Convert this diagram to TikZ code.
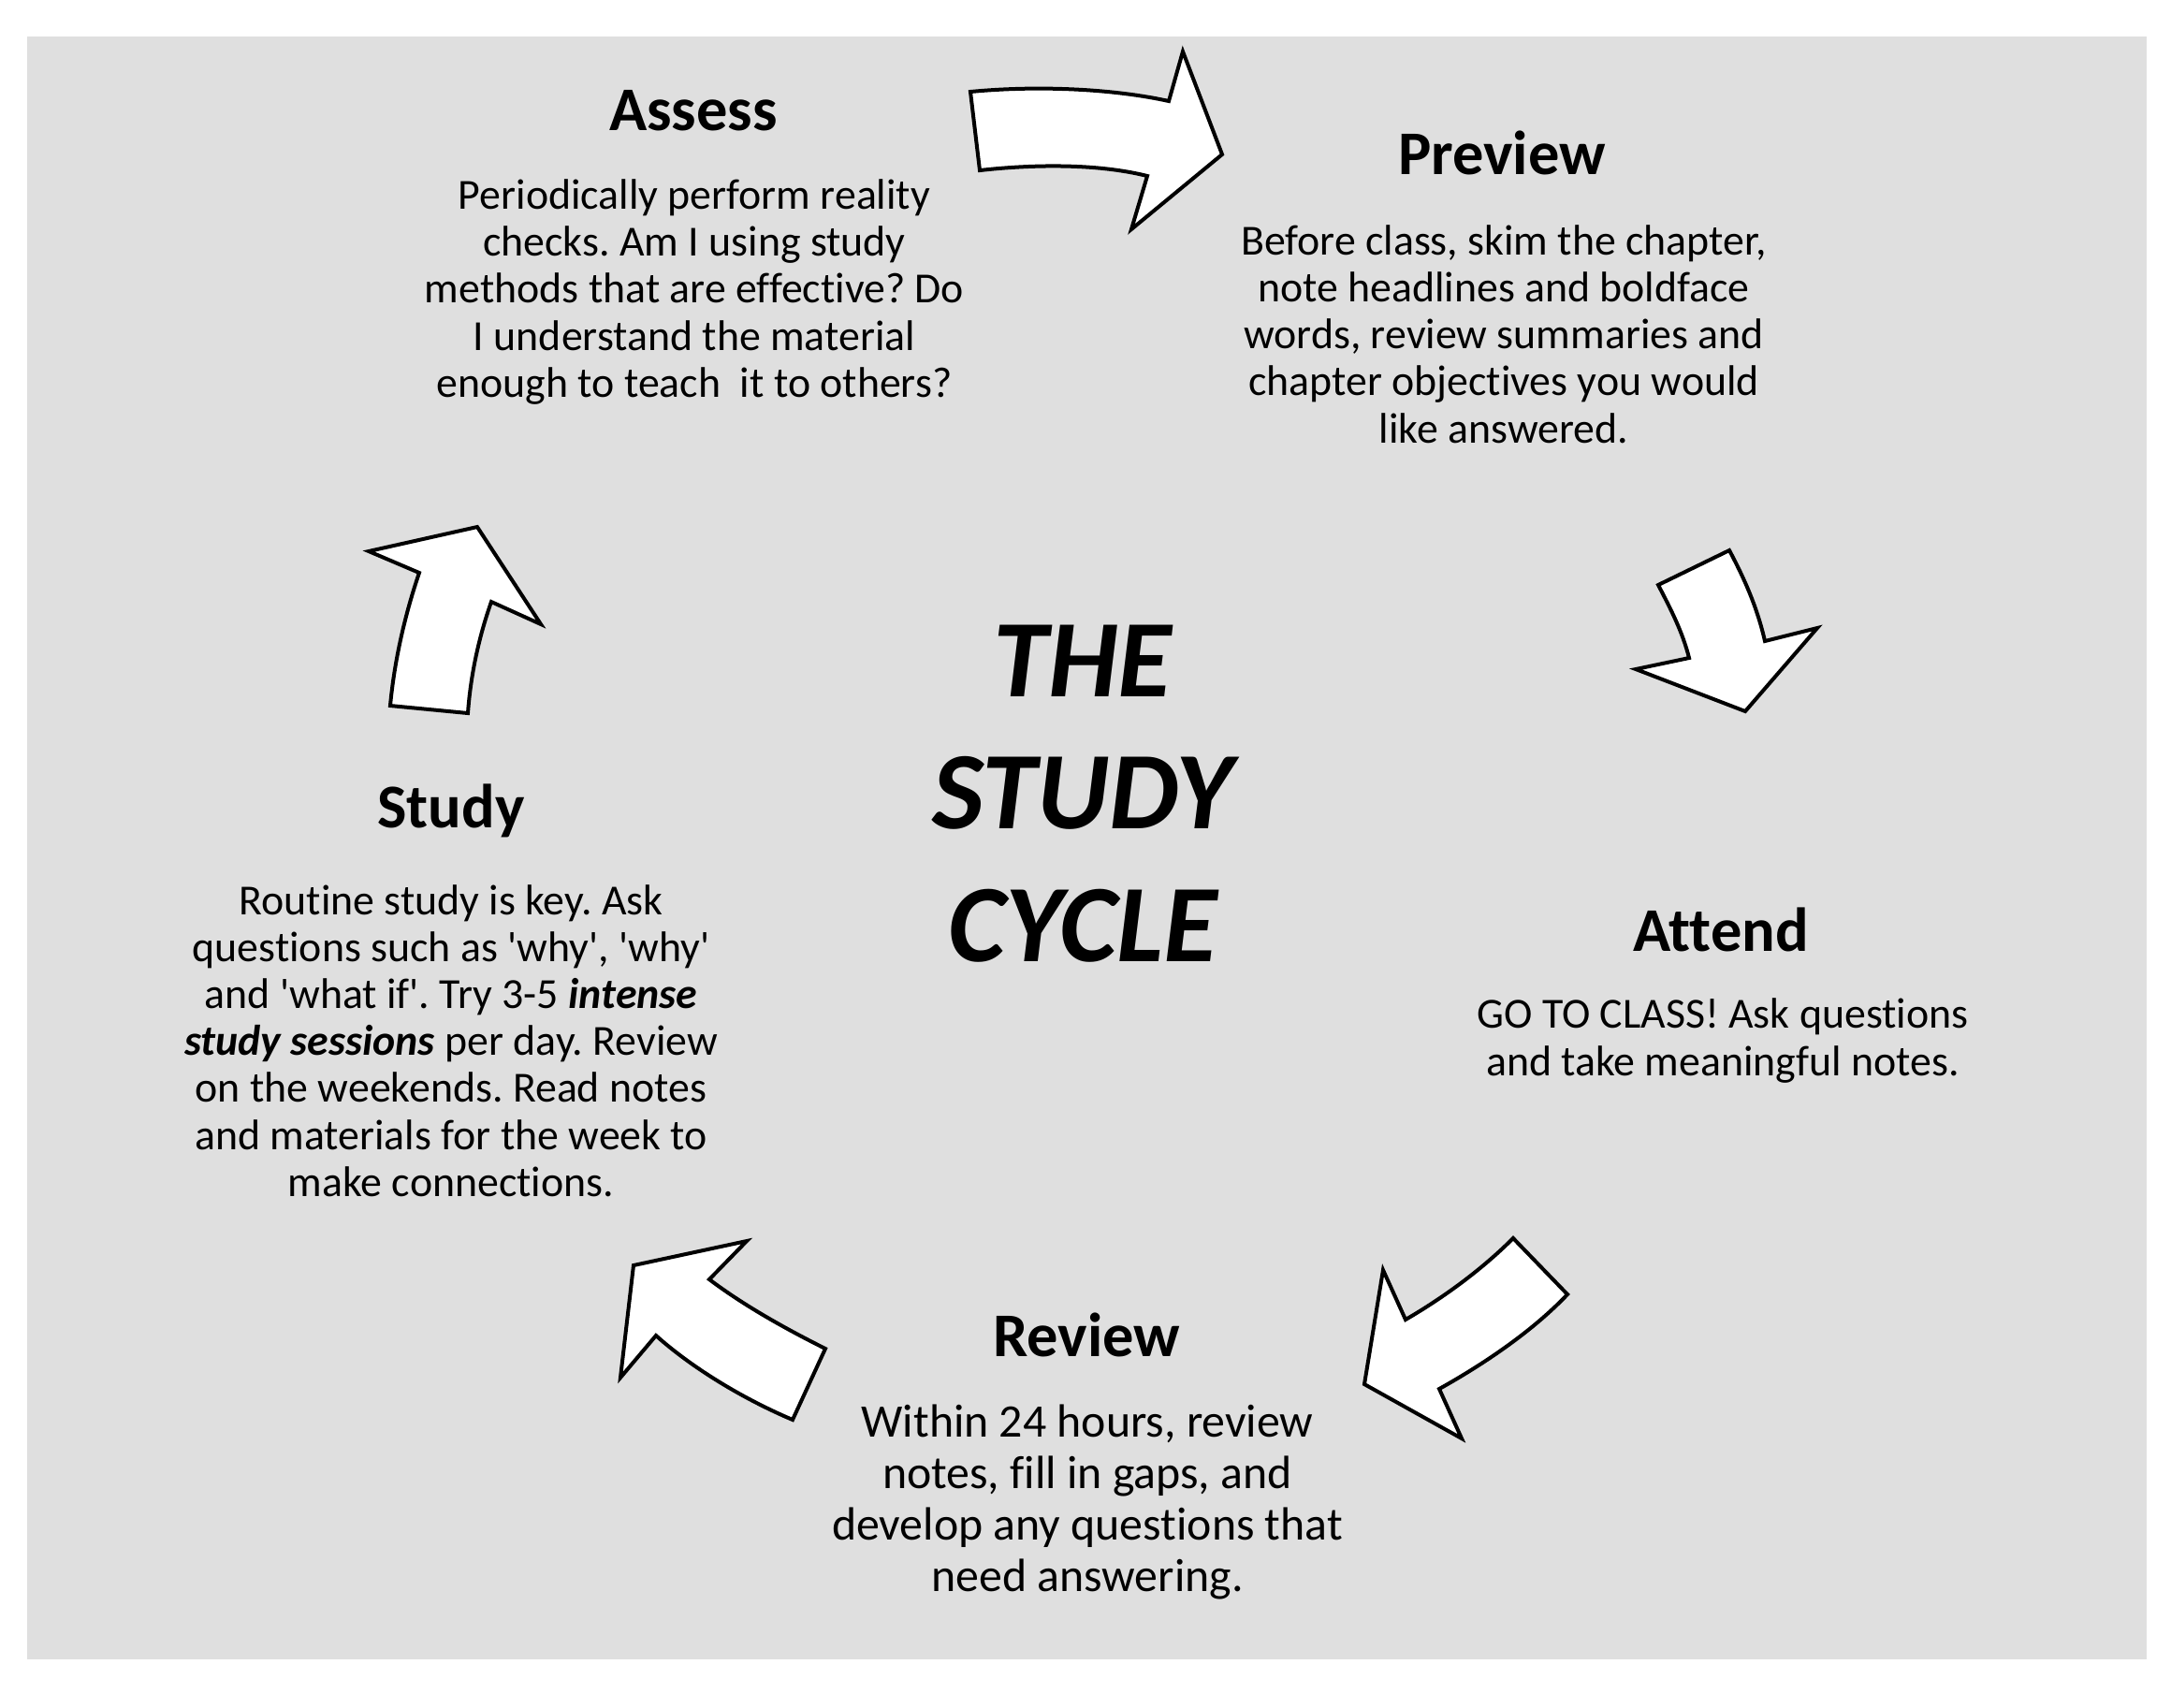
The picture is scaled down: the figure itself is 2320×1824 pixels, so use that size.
\documentclass[tikz,border=0pt]{standalone}
\usepackage{fontspec}
\setmainfont{Carlito}[Ligatures={NoCommon}]
\usetikzlibrary{positioning}
\definecolor{bggray}{HTML}{DFDFDF}
\frenchspacing

\begin{document}
\begin{tikzpicture}[x=0.3bp,y=-0.3bp,
  bigarrow/.style={draw=black,fill=white,line width=1.2bp,line join=miter},
  heading/.style={font=\fontsize{20}{24}\selectfont\bfseries,inner sep=0pt},
  body/.style={align=center,font=\fontsize{13.8}{15.1}\selectfont,inner sep=0pt}]
\useasboundingbox (0,0) rectangle (2320,1824);
% Grey background
\fill[bggray] (29,39) rectangle (2294,1773);
% Title in the middle
\node[font=\fontsize{35.5}{42.6}\selectfont\bfseries\itshape,align=center,inner sep=0pt] (title) at (1157,848) {THE\\STUDY\\CYCLE};
% Assess
\node[heading] (assess) at (741,118) {Assess};
\node[body] (assesstext) at (742,312) {Periodically perform reality\\checks. Am I using study\\methods that are effective? Do\\I understand the material\\enough to teach\ \ it to others?};
% Preview
\node[heading] (preview) at (1605,163) {Preview};
\node[body] (previewtext) at (1607,357) {Before class, skim the chapter,\\note headlines and boldface\\words, review summaries and\\chapter objectives you would\\like answered.};
% Attend
\node[heading] (attend) at (1839,993) {Attend};
\node[body] (attendtext) at (1841,1112) {GO TO CLASS! Ask questions\\and take meaningful notes.};
% Review
\node[heading] (review) at (1161,1426) {Review};
\node[body,font=\fontsize{15}{16.5}\selectfont] (reviewtext) at (1162,1605) {Within 24 hours, review\\notes, fill in gaps, and\\develop any questions that\\need answering.};
% Study
\node[heading] (study) at (482,866) {Study};
\node[body] (studytext) at (482,1112) {Routine study is key. Ask\\questions such as \textquotesingle why\textquotesingle, \textquotesingle why\textquotesingle\\and \textquotesingle what if\textquotesingle. Try 3-5 \textbf{\textit{intense}}\\\textbf{\textit{study sessions}} per day. Review\\on the weekends. Read notes\\and materials for the week to\\make connections.};
% Arrows between the steps
\draw[bigarrow] (1037,98) .. controls (1110,91) and (1190,95) .. (1249,108) -- (1264,55) -- (1306,165) -- (1209,245) -- (1226,188) .. controls (1170,174) and (1100,176) .. (1047,182) -- cycle; %assess to preview
\draw[bigarrow] (1772,625) -- (1848,588) .. controls (1865,620) and (1878,650) .. (1886,685) -- (1942,671) -- (1865,760) -- (1748,715) -- (1805,703) .. controls (1798,675) and (1785,650) .. (1772,625) -- cycle; %preview to attend
\draw[bigarrow] (1617,1323) -- (1675,1383) .. controls (1640,1420) and (1590,1455) .. (1538,1484) -- (1562,1537) -- (1458,1479) -- (1478,1357) -- (1502,1410) .. controls (1545,1385) and (1585,1355) .. (1617,1323) -- cycle; %attend to review
\draw[bigarrow] (847,1517) -- (882,1441) .. controls (840,1420) and (795,1395) .. (758,1367) -- (798,1326) -- (677,1352) -- (663,1472) -- (701,1427) .. controls (740,1462) and (795,1495) .. (847,1517) -- cycle; %review to study
\draw[bigarrow] (417,754) -- (500,762) .. controls (503,720) and (512,680) .. (525,643) -- (578,667) -- (510,563) -- (394,589) -- (448,612) .. controls (435,650) and (422,700) .. (417,754) -- cycle; %study to assess
\end{tikzpicture}
\end{document}
